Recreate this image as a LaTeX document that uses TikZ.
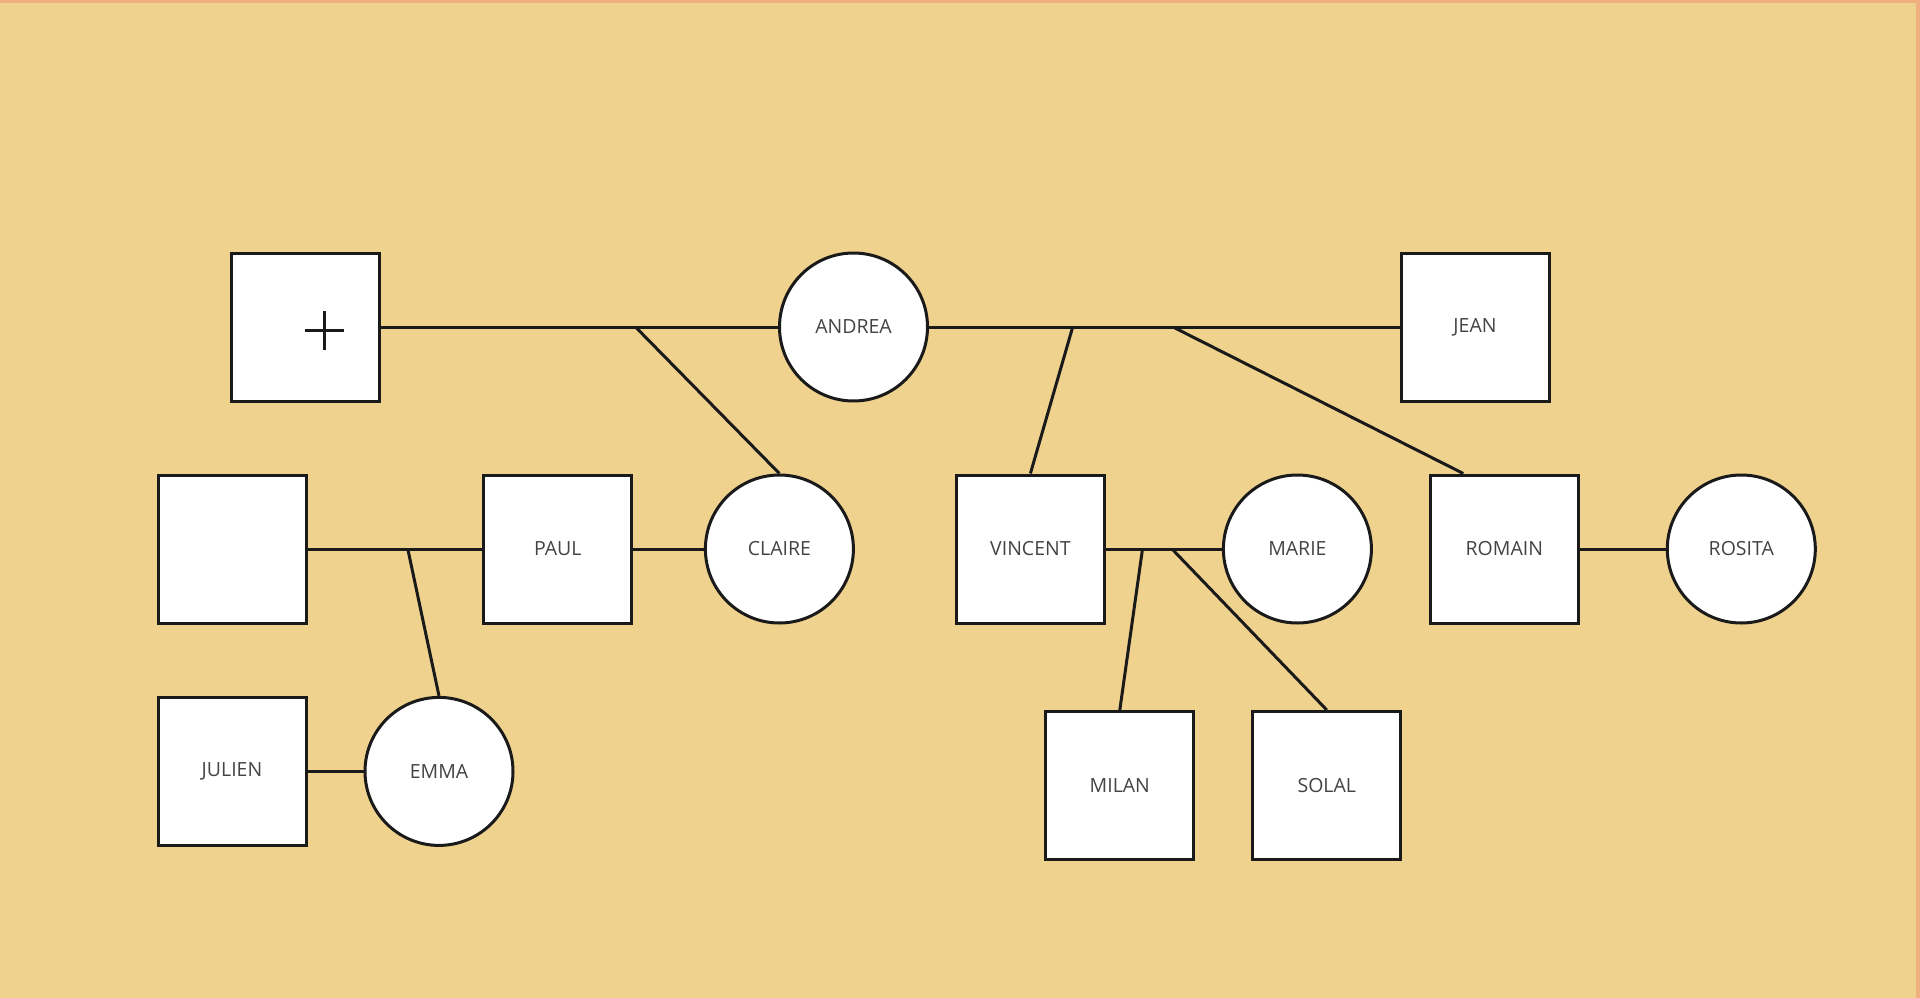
\documentclass[tikz,border=0pt]{standalone}
\usepackage{fontspec}
\setmainfont{Open Sans}
\definecolor{bgc}{HTML}{F0D28F}
\definecolor{edgec}{HTML}{EFAF7E}
\definecolor{txt}{HTML}{444444}
\definecolor{ink}{HTML}{1A1A1A}
\begin{document}
\begin{tikzpicture}[x=1pt,y=-1pt,
  person/.style={draw=ink,fill=white,line width=3pt,minimum size=148pt,inner sep=0pt,
    font=\fontsize{19.5}{22}\selectfont,text=txt},
  male/.style={person,rectangle},
  female/.style={person,circle},
  link/.style={draw=ink,line width=3pt}]
\useasboundingbox (0,0) rectangle (1920,998);
\fill[bgc] (0,0) rectangle (1920,998);
\fill[edgec] (0,0) rectangle (1920,3);
\fill[edgec] (1916,0) rectangle (1920,998);
% generation 1
\node[male] (dead) at (305.5,327) {};
\node[female] (andrea) at (853.5,327) {\raisebox{-2pt}{ANDREA}};
\node[male] (jean) at (1475,327) {\raisebox{-2pt}{JEAN}};
% generation 2
\node[male] (blank) at (232,549) {};
\node[male] (paul) at (557.8,549) {\raisebox{-2pt}{PAUL}};
\node[female] (claire) at (779.4,549) {\raisebox{-2pt}{CLAIRE}};
\node[male] (vincent) at (1030.4,549) {\raisebox{-2pt}{VINCENT}};
\node[female] (marie) at (1297.4,549) {\raisebox{-2pt}{MARIE}};
\node[male] (romain) at (1504.3,549) {\raisebox{-2pt}{ROMAIN}};
\node[female] (rosita) at (1741.3,549) {\raisebox{-2pt}{ROSITA}};
% generation 3
\node[male] (julien) at (232,771.4) {\raisebox{-2pt}{JULIEN}};
\node[female] (emma) at (439,771.4) {\raisebox{-2pt}{EMMA}};
\node[male] (milan) at (1119.8,785.5) {\raisebox{-2pt}{MILAN}};
\node[male] (solal) at (1326.8,785.5) {\raisebox{-2pt}{SOLAL}};
% cross
\draw[ink,line width=2.6pt] (305,330.6) -- (344,330.6) (324.5,311) -- (324.5,350);
% junction points
\coordinate (j1) at (635.5,327);
\coordinate (j2) at (1072.7,327);
\coordinate (j3) at (1173,327);
\coordinate (j4) at (407.8,549);
\coordinate (j5) at (1142.5,549);
\coordinate (j6) at (1172,549);
% couples
\draw[link] (dead.east) -- (andrea.west);
\draw[link] (andrea.east) -- (jean.west);
\draw[link] (blank.east) -- (paul.west);
\draw[link] (paul.east) -- (claire.west);
\draw[link] (vincent.east) -- (marie.west);
\draw[link] (romain.east) -- (rosita.west);
\draw[link] (julien.east) -- (emma.west);
% descent
\draw[link] (j1) -- (claire.north);
\draw[link] (j2) -- (vincent.north);
\draw[link] (j3) -- ([xshift=-41pt]romain.north);
\draw[link] (j4) -- (emma.north);
\draw[link] (j5) -- (milan.north);
\draw[link] (j6) -- (solal.north);
\end{tikzpicture}
\end{document}
